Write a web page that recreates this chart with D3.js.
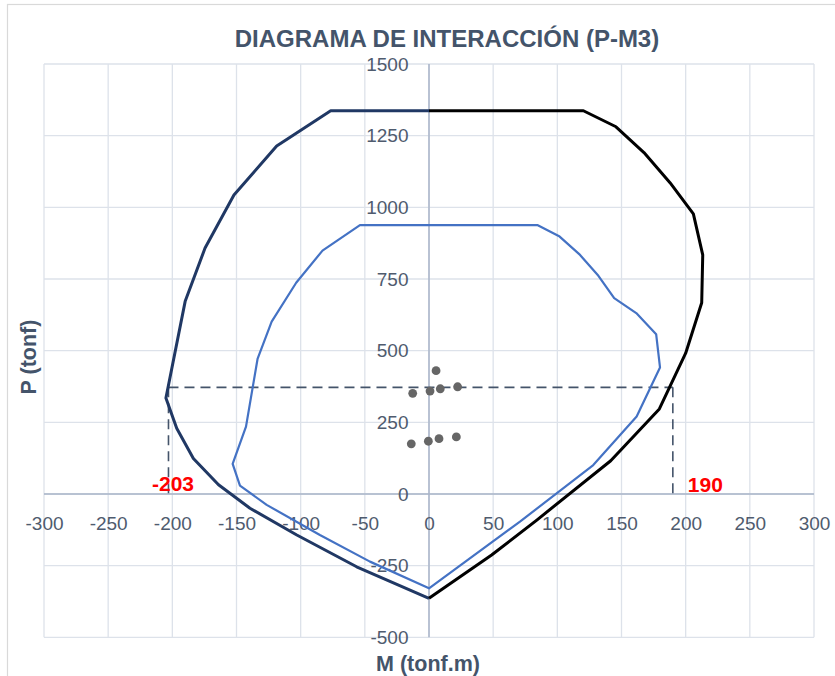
<!DOCTYPE html>
<html>
<head>
<meta charset="utf-8">
<script src="https://cdn.jsdelivr.net/npm/d3@7"></script>
<style>
  html, body { margin: 0; padding: 0; background: #ffffff; }
  svg { display: block; }
</style>
</head>
<body>
<div id="chart"></div>
<script>
// Interaction diagram P-M3: capacity envelopes, applied loads and reference values

// Outer envelope, negative-moment side (M in tonf.m, P in tonf)
const outerLeftM = [0, -76.6, -118.7, -152, -174.5, -190, -205, -196.6, -183.6, -164, -139.5, -103, -56.4, 0];
const outerLeftP = [1337, 1337, 1214, 1043, 858, 672, 335, 229, 124, 32, -50, -143, -254, -364];

// Outer envelope, positive-moment side
const outerRightM = [0, 120.3, 145.7, 167.5, 187.8, 206, 213.3, 212.5, 200, 179.5, 141.6, 84, 48.8, 0];
const outerRightP = [1337, 1337, 1281, 1191, 1086, 977, 834, 667, 491, 296.5, 116, -91, -213, -364];

// Reduced (design) envelope
const innerM = [0, -53.8, -83, -103.5, -122.6, -133.6, -142.6, -153, -147.3, -126.5, -85, -46, 0,
                70.9, 128, 161.8, 180, 177, 161.5, 144.3, 132, 117.7, 101.8, 84.4, 0];
const innerP = [938, 938, 849, 737, 601, 471, 235, 105, 29, -38, -143, -236, -329,
                -96.5, 101, 270, 441.5, 557.5, 631, 683, 761, 834, 898, 938, 938];

// Applied load combinations
const loadM = [5.5, -12.7, 0.8, 8.8, 22.3, -13.8, -0.5, 7.8, 21.3];
const loadP = [430, 351, 359, 367, 374, 175, 184, 193, 199];

// Capacity moments read at the reference axial load
const refP = 372;
const refM = [-203, 190];

// Axis ticks
const xTicks = [-300, -250, -200, -150, -100, -50, 0, 50, 100, 150, 200, 250, 300];
const yTicks = [-500, -250, 0, 250, 500, 750, 1000, 1250, 1500];

const W = 835, H = 676;
const plot = { left: 44, right: 814, top: 64, bottom: 637.3 };

const svg = d3.select("#chart").append("svg")
  .attr("width", W).attr("height", H)
  .style("font-family", "'Liberation Sans', Arial, sans-serif");

svg.append("rect").attr("width", W).attr("height", H).attr("fill", "#ffffff");

// chart frame
svg.append("rect")
  .attr("x", 7.5).attr("y", 4.5).attr("width", W).attr("height", H)
  .attr("fill", "none").attr("stroke", "#d9d9d9").attr("stroke-width", 1.2);

const x = d3.scaleLinear().domain([-300, 300]).range([plot.left, plot.right]);
const y = d3.scaleLinear().domain([-500, 1500]).range([plot.bottom, plot.top]);

// gridlines
const grid = svg.append("g").attr("stroke", "#dde2ea").attr("stroke-width", 1.3);
grid.selectAll("line.v").data(xTicks).join("line")
  .attr("x1", d => x(d)).attr("x2", d => x(d))
  .attr("y1", plot.top).attr("y2", plot.bottom);
grid.selectAll("line.h").data(yTicks).join("line")
  .attr("y1", d => y(d)).attr("y2", d => y(d))
  .attr("x1", plot.left).attr("x2", plot.right);

// main axes through the origin
svg.append("line")
  .attr("x1", x(0)).attr("x2", x(0)).attr("y1", plot.top).attr("y2", plot.bottom)
  .attr("stroke", "#a9b5c8").attr("stroke-width", 1.5);
svg.append("line")
  .attr("y1", y(0)).attr("y2", y(0)).attr("x1", plot.left).attr("x2", plot.right)
  .attr("stroke", "#a9b5c8").attr("stroke-width", 1.5);

// tick labels
const tickColor = "#4f5b6e";
const xAxis = d3.axisBottom(x).tickValues(xTicks).tickSize(0).tickPadding(22.5)
  .tickFormat(d => String(d));
const gx = svg.append("g").attr("transform", `translate(0,${y(0)})`).call(xAxis);
const yAxis = d3.axisLeft(y).tickValues(yTicks).tickSize(0).tickPadding(20.5)
  .tickFormat(d => String(d));
const gy = svg.append("g").attr("transform", `translate(${x(0)},0)`).call(yAxis);
[gx, gy].forEach(g => {
  g.select(".domain").remove();
  g.selectAll("text").attr("fill", tickColor)
    .style("font-size", "19px").style("font-family", "'Liberation Sans', Arial, sans-serif");
});

// reference dashed lines
const dash = svg.append("g").attr("stroke", "#44546a").attr("stroke-width", 1.6)
  .attr("stroke-dasharray", "10,6").attr("fill", "none");
dash.append("line")
  .attr("x1", x(refM[0])).attr("x2", x(refM[1])).attr("y1", y(refP)).attr("y2", y(refP));
refM.forEach(m => {
  dash.append("line").attr("x1", x(m)).attr("x2", x(m)).attr("y1", y(refP)).attr("y2", y(0));
});

// envelopes
const pts = (ms, ps) => ms.map((m, i) => [m, ps[i]]);
const line = d3.line().x(d => x(d[0])).y(d => y(d[1]));

svg.append("path").datum(pts(innerM, innerP)).attr("d", line)
  .attr("fill", "none").attr("stroke", "#4472c4").attr("stroke-width", 2.2)
  .attr("stroke-linejoin", "round");
svg.append("path").datum(pts(outerLeftM, outerLeftP)).attr("d", line)
  .attr("fill", "none").attr("stroke", "#203864").attr("stroke-width", 3)
  .attr("stroke-linejoin", "round");
svg.append("path").datum(pts(outerRightM, outerRightP)).attr("d", line)
  .attr("fill", "none").attr("stroke", "#000000").attr("stroke-width", 3)
  .attr("stroke-linejoin", "round");

// load points
svg.append("g").selectAll("circle").data(pts(loadM, loadP)).join("circle")
  .attr("cx", d => x(d[0])).attr("cy", d => y(d[1])).attr("r", 4.4)
  .attr("fill", "#666666");

// value labels
svg.append("text").attr("x", x(refM[0]) + 4.5).attr("y", y(0) - 2.5)
  .attr("text-anchor", "middle").attr("fill", "#ff0000")
  .style("font-size", "21px").style("font-weight", "bold").text(String(refM[0]));
svg.append("text").attr("x", x(refM[1]) + 15).attr("y", y(0) - 2)
  .attr("text-anchor", "start").attr("fill", "#ff0000")
  .style("font-size", "21px").style("font-weight", "bold").text(String(refM[1]));

// titles
svg.append("text").attr("x", 447).attr("y", 46.5).attr("text-anchor", "middle")
  .attr("fill", "#44546a").style("font-size", "24px").style("font-weight", "bold")
  .text("DIAGRAMA DE INTERACCIÓN (P-M3)");
svg.append("text").attr("x", 428).attr("y", 670.5).attr("text-anchor", "middle")
  .attr("fill", "#44546a").style("font-size", "21.5px").style("font-weight", "bold")
  .text("M (tonf.m)");
svg.append("text").attr("transform", "translate(36,357) rotate(-90)")
  .attr("text-anchor", "middle")
  .attr("fill", "#44546a").style("font-size", "21.5px").style("font-weight", "bold")
  .text("P (tonf)");
</script>
</body>
</html>
